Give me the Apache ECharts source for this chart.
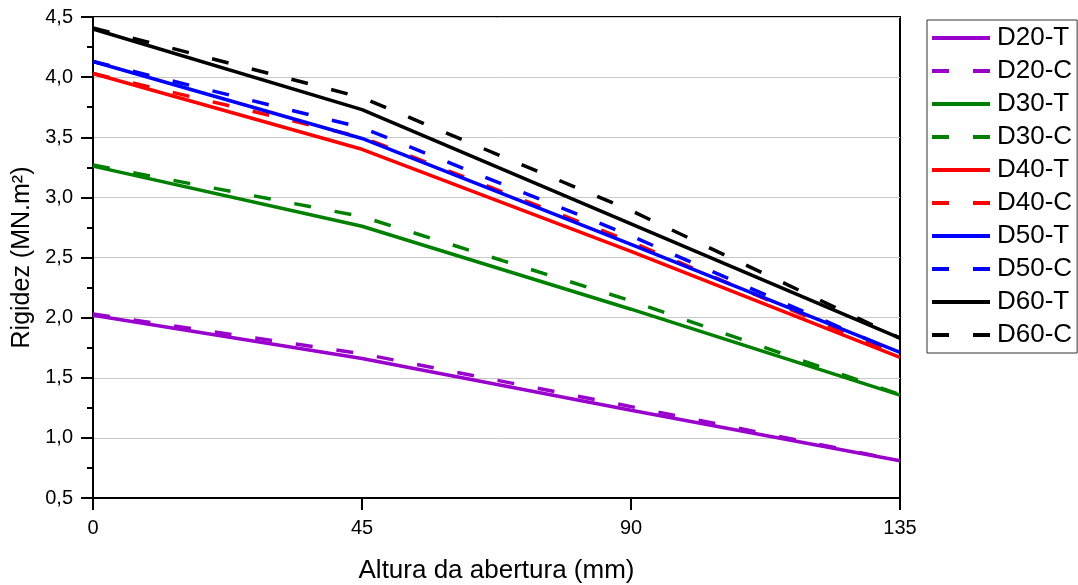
<!DOCTYPE html>
<html>
<head>
<meta charset="utf-8">
<script src="https://cdn.jsdelivr.net/npm/echarts@6/dist/echarts.min.js"></script>
<style>html,body{margin:0;padding:0;background:#fff}#c{width:1078px;height:585px}</style>
</head>
<body>
<div id="c"></div>
<script>
var xValues = [0, 45, 90, 135];
var xTicks = [0, 45, 90, 135];
var yTicks = ['0,5','1,0','1,5','2,0','2,5','3,0','3,5','4,0','4,5'];
var D20T = [2.02, 1.66, 1.23, 0.81];
var D20C = [2.03, 1.70, 1.26, 0.81];
var D30T = [3.26, 2.76, 2.07, 1.355];
var D30C = [3.27, 2.84, 2.14, 1.36];
var D40T = [4.03, 3.40, 2.55, 1.67];
var D40C = [4.03, 3.50, 2.63, 1.68];
var D50T = [4.13, 3.49, 2.61, 1.71];
var D50C = [4.13, 3.58, 2.68, 1.70];
var D60T = [4.40, 3.73, 2.78, 1.83];
var D60C = [4.41, 3.83, 2.89, 1.83];
var seriesNames = ['D20-T','D20-C','D30-T','D30-C','D40-T','D40-C','D50-T','D50-C','D60-T','D60-C'];
var seriesData = [D20T, D20C, D30T, D30C, D40T, D40C, D50T, D50C, D60T, D60C];
var colors = ['#9900cc','#9900cc','#008000','#008000','#ff0000','#ff0000','#0000ff','#0000ff','#000000','#000000'];

var font = 'Liberation Sans, Arial, sans-serif';
var solidIcon = 'path://M0,0h58v4h-58z';
var dashIcon = 'path://M0,0h17v4h-17z M41,0h17v4h-17z';
var chart = echarts.init(document.getElementById('c'));
var series = seriesNames.map(function (n, i) {
  return {
    name: n,
    type: 'line',
    data: xValues.map(function (x, j) { return [x, seriesData[i][j]]; }),
    symbol: 'none',
    showSymbol: false,
    color: colors[i],
    lineStyle: { width: 3.5, color: colors[i], type: (i % 2 === 1) ? [17, 24] : 'solid' },
    emphasis: { disabled: true },
    animation: false
  };
});
chart.setOption({
  animation: false,
  grid: { left: 93, right: 178, top: 17, bottom: 87, show: true, borderColor: '#000', borderWidth: 2,
    backgroundColor: 'transparent', containLabel: false, outerBoundsMode: 'none' },
  legend: {
    orient: 'vertical', left: 927, top: 20,
    padding: [5, 5, 5, 5], itemGap: 7, itemWidth: 58, itemHeight: 4,
    borderColor: '#333', borderWidth: 1,
    textStyle: { fontFamily: font, fontSize: 26, color: '#000', lineHeight: 26, padding: [0, 0, 0, 2] },
    data: seriesNames.map(function (n, i) {
      return { name: n, icon: (i % 2 === 1) ? dashIcon : solidIcon, itemStyle: { color: colors[i] } };
    })
  },
  xAxis: {
    type: 'value', min: 0, max: 135, interval: 45,
    name: 'Altura da abertura (mm)', nameLocation: 'middle', nameGap: 60,
    nameTextStyle: { fontFamily: font, fontSize: 26, color: '#000' },
    axisLine: { show: true, lineStyle: { color: '#000', width: 2 } },
    axisTick: { show: true, inside: false, length: 12, lineStyle: { color: '#000', width: 2 } },
    axisLabel: { fontFamily: font, fontSize: 20, color: '#000', margin: 20,
      formatter: function (v) { return xTicks.indexOf(v) >= 0 ? String(v) : ''; } },
    splitLine: { show: false }
  },
  yAxis: {
    type: 'value', min: 0.5, max: 4.5, interval: 0.5,
    name: 'Rigidez (MN.m²)', nameLocation: 'middle', nameGap: 51,
    nameTextStyle: { fontFamily: font, fontSize: 25, color: '#000' },
    axisLine: { show: true, lineStyle: { color: '#000', width: 2 } },
    axisTick: { show: true, inside: false, length: 12, lineStyle: { color: '#000', width: 2 } },
    minorTick: { show: true, splitNumber: 2, length: 6, lineStyle: { color: '#000', width: 2 } },
    axisLabel: { fontFamily: font, fontSize: 20, color: '#000', margin: 20,
      formatter: function (v) { return yTicks[Math.round((v - 0.5) / 0.5)]; } },
    splitLine: { show: true, lineStyle: { color: '#c8c8c8', width: 1 } }
  },
  series: series
});
</script>
</body>
</html>
